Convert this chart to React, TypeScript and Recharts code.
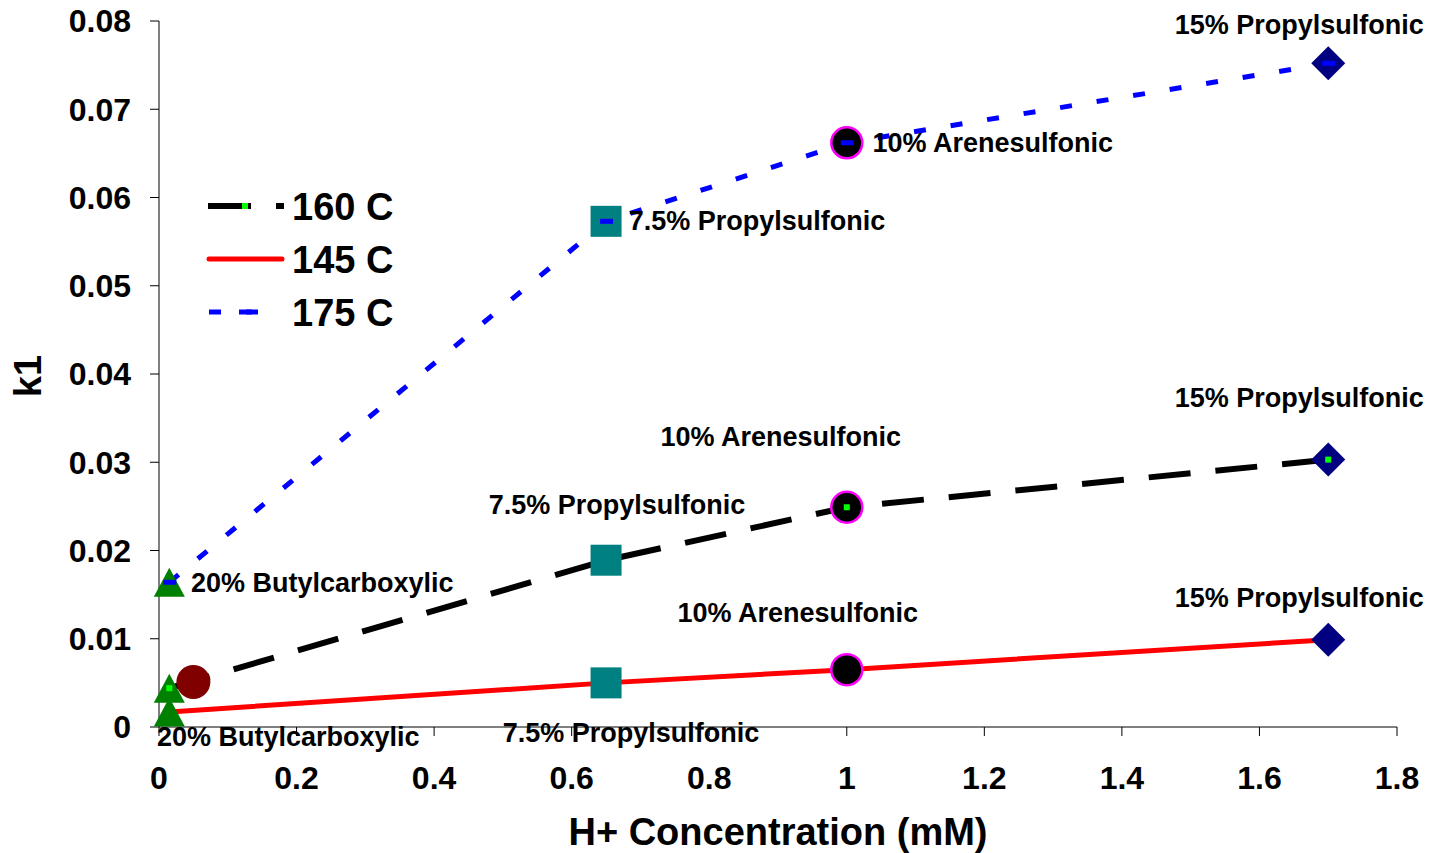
import React from 'react';
import { ComposedChart, Line, Scatter, XAxis, YAxis, Legend, Label } from 'recharts';

// ---------- data ----------
const hConc = [0.015, 0.65, 1.0, 1.7];
const catalysts = ['20% Butylcarboxylic', '7.5% Propylsulfonic', '10% Arenesulfonic', '15% Propylsulfonic'];
const k1At145 = [0.0017, 0.005, 0.0065, 0.0099];
const k1At160 = [0.0044, 0.0189, 0.0249, 0.0303];
const k1At175 = [0.0164, 0.0573, 0.0662, 0.0752];
const extraConc = [0.05];
const extraK1 = [0.0051];
const seriesNames = ['160 C', '145 C', '175 C'];
const xTicks = [0, 0.2, 0.4, 0.6, 0.8, 1, 1.2, 1.4, 1.6, 1.8];
const yTicks = [0, 0.01, 0.02, 0.03, 0.04, 0.05, 0.06, 0.07, 0.08];
const xTitle = 'H+ Concentration (mM)';
const yTitle = 'k1';

// which points carry a data label, per series
const labelled145 = [true, true, true, true];
const labelled160 = [false, true, true, true];
const labelled175 = [true, true, true, true];

// ---------- layout (label offsets, px from the point) ----------
const OFF145: [number, number][] = [[119, 25], [25, 50], [-49, -57], [-29, -42]];
const OFF160: [number, number][] = [[0, 0], [11, -56], [-66, -71], [-29, -62]];
const OFF175: [number, number][] = [[153, 0], [151, -1], [146, 0], [-29, -39]];

const FONT = '"Liberation Sans", Arial, sans-serif';

const toPts = (ys: number[]) => hConc.map((x, i) => ({ x, y: ys[i], i }));
const line145 = toPts(k1At145);
const line160 = toPts(k1At160);
const line175 = toPts(k1At175);
const byCatalyst = (i: number) => [
  { x: hConc[i], y: k1At145[i], i },
  { x: hConc[i], y: k1At160[i], i },
  { x: hConc[i], y: k1At175[i], i },
];
const extraPts = extraConc.map((x, i) => ({ x, y: extraK1[i], i }));

const Triangle = (p: any) => (
  <polygon
    points={`${p.cx},${p.cy - 14.5} ${p.cx - 15.5},${p.cy + 14.5} ${p.cx + 15.5},${p.cy + 14.5}`}
    fill="#008000"
  />
);
const Square = (p: any) => <rect x={p.cx - 15.5} y={p.cy - 15.5} width={31} height={31} fill="#008080" />;
const RingCircle = (p: any) => <circle cx={p.cx} cy={p.cy} r={15.5} fill="#000" stroke="#FF00FF" strokeWidth={2.5} />;
const Diamond = (p: any) => (
  <polygon
    points={`${p.cx},${p.cy - 17} ${p.cx + 17},${p.cy} ${p.cx},${p.cy + 17} ${p.cx - 17},${p.cy}`}
    fill="#000080"
  />
);
const DarkCircle = (p: any) => <circle cx={p.cx} cy={p.cy} r={17} fill="#800000" />;
const GreenDot = (p: any) => <rect x={p.cx - 3} y={p.cy - 3} width={6} height={6} fill="#00FF00" />;
const BlueDash = (p: any) => <rect x={p.cx - 6} y={p.cy - 2.5} width={13} height={5} fill="#0000FF" />;

const makeLabel = (offs: [number, number][], show: boolean[]) => (p: any) => {
  const idx = p.payload?.i ?? 0;
  if (!show[idx]) return <g />;
  const [dx, dy] = offs[idx];
  return (
    <text
      x={p.cx + dx}
      y={p.cy + dy}
      dy="0.35em"
      textAnchor="middle"
      fontFamily={FONT}
      fontWeight="bold"
      fontSize={27}
      fill="#000"
    >
      {catalysts[idx]}
    </text>
  );
};

const LegendBox = () => {
  const rows = [206, 259, 312].map((y) => y - 175);
  return (
    <svg width={220} height={170} style={{ overflow: 'visible' }}>
      {/* 160 C */}
      <line x1={8} x2={84} y1={rows[0]} y2={rows[0]} stroke="#000" strokeWidth={6} strokeDasharray="43 25" />
      <rect x={42} y={rows[0] - 3} width={6} height={6} fill="#00FF00" />
      {/* 145 C */}
      <line x1={9} x2={82} y1={rows[1]} y2={rows[1]} stroke="#FF0000" strokeWidth={5} strokeLinecap="round" />
      {/* 175 C */}
      <line x1={9} x2={60} y1={rows[2]} y2={rows[2]} stroke="#0000FF" strokeWidth={5} strokeDasharray="12 25" />
      <rect x={39} y={rows[2] - 2.5} width={13} height={5} fill="#0000FF" />
      {seriesNames.map((n, k) => (
        <text key={n} x={92} y={rows[k] + 13.5} fontFamily={FONT} fontWeight="bold" fontSize={38} fill="#000">
          {n}
        </text>
      ))}
    </svg>
  );
};

const tickStyle = { fill: '#000', fontSize: 32, fontWeight: 'bold', fontFamily: FONT };

export default function App() {
  return (
    <div style={{ position: 'absolute', left: 0, top: 0, width: 1429, height: 853, background: '#fff' }}>
      <ComposedChart
        width={1429}
        height={853}
        margin={{ top: 21, right: 32, bottom: 66, left: 59 }}
        style={{ fontFamily: FONT }}
      >
        <XAxis
          type="number"
          dataKey="x"
          domain={[0, 1.8]}
          ticks={xTicks}
          interval={0}
          height={60}
          tickSize={9}
          tickMargin={30}
          axisLine={{ stroke: '#000', strokeWidth: 1 }}
          tickLine={{ stroke: '#000', strokeWidth: 1 }}
          tick={tickStyle}
        >
          <Label
            content={(p: any) => {
              const vb = p.viewBox || { x: 159, y: 727, width: 1238, height: 60 };
              return (
                <text
                  x={vb.x + vb.width / 2}
                  y={vb.y + vb.height + 58}
                  textAnchor="middle"
                  fontFamily={FONT}
                  fontWeight="bold"
                  fontSize={38}
                  fill="#000"
                >
                  {xTitle}
                </text>
              );
            }}
          />
        </XAxis>
        <YAxis
          type="number"
          dataKey="y"
          domain={[0, 0.08]}
          ticks={yTicks}
          interval={0}
          width={100}
          tickSize={9}
          tickMargin={19}
          axisLine={{ stroke: '#000', strokeWidth: 1 }}
          tickLine={{ stroke: '#000', strokeWidth: 1 }}
          tick={tickStyle}
        >
          <Label
            content={(p: any) => {
              const vb = p.viewBox || { x: 59, y: 21, width: 100, height: 706 };
              const cx = vb.x - 31;
              const cy = vb.y + vb.height / 2 + 2;
              return (
                <text
                  x={cx}
                  y={cy}
                  dy="0.35em"
                  transform={`rotate(-90 ${cx} ${cy})`}
                  textAnchor="middle"
                  fontFamily={FONT}
                  fontWeight="bold"
                  fontSize={38}
                  fill="#000"
                >
                  {yTitle}
                </text>
              );
            }}
          />
        </YAxis>

        <Legend
          layout="vertical"
          align="center"
          verticalAlign="middle"
          content={() => <LegendBox />}
          wrapperStyle={{ position: 'absolute', left: 200, top: 175, width: 220, height: 170 }}
        />

        {/* lines */}
        <Line data={line145} dataKey="y" type="linear" stroke="#FF0000" strokeWidth={5} dot={false} activeDot={false} isAnimationActive={false} legendType="none" />
        <Line data={line160} dataKey="y" type="linear" stroke="#000" strokeWidth={6} strokeDasharray="42 25" dot={false} activeDot={false} isAnimationActive={false} legendType="none" />
        <Line data={line175} dataKey="y" type="linear" stroke="#0000FF" strokeWidth={5} strokeDasharray="12 25" dot={false} activeDot={false} isAnimationActive={false} legendType="none" />

        {/* markers */}
        <Scatter data={byCatalyst(0)} dataKey="y" shape={Triangle} isAnimationActive={false} legendType="none" />
        <Scatter data={extraPts} dataKey="y" shape={DarkCircle} isAnimationActive={false} legendType="none" />
        <Scatter data={byCatalyst(2)} dataKey="y" shape={RingCircle} isAnimationActive={false} legendType="none" />
        <Scatter data={byCatalyst(3)} dataKey="y" shape={Diamond} isAnimationActive={false} legendType="none" />
        <Scatter data={line160} dataKey="y" shape={GreenDot} isAnimationActive={false} legendType="none" />
        <Scatter data={byCatalyst(1)} dataKey="y" shape={Square} isAnimationActive={false} legendType="none" />
        <Scatter data={line175} dataKey="y" shape={BlueDash} isAnimationActive={false} legendType="none" />

        {/* data labels */}
        <Scatter data={line145} dataKey="y" shape={makeLabel(OFF145, labelled145)} isAnimationActive={false} legendType="none" />
        <Scatter data={line160} dataKey="y" shape={makeLabel(OFF160, labelled160)} isAnimationActive={false} legendType="none" />
        <Scatter data={line175} dataKey="y" shape={makeLabel(OFF175, labelled175)} isAnimationActive={false} legendType="none" />
      </ComposedChart>
    </div>
  );
}
